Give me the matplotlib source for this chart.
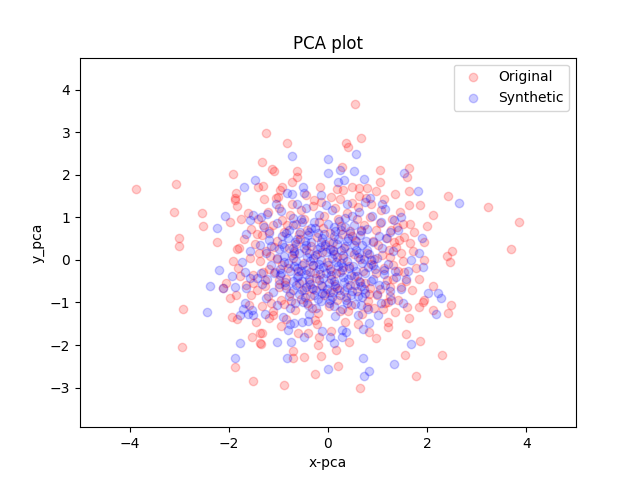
import matplotlib
matplotlib.use("Agg")
import matplotlib.pyplot as plt
import numpy as np

# Original (red) points
original_pts = [
    (-3.88,1.67),(-3.07,1.78),(-3.11,1.13),(-3.00,0.52),(-3.00,0.33),(-2.93,-1.15),(-2.95,-2.04),
    (-2.54,1.10),(-2.52,0.80),(-2.24,0.42),(-1.92,2.02),(-1.24,2.98),(0.54,3.66),(0.66,2.86),
    (0.37,2.75),(0.41,2.65),(-0.82,2.75),(-1.33,2.30),(-1.12,2.14),(-1.08,2.09),(3.23,1.24),
    (3.86,0.89),(3.68,0.26),(2.42,1.50),(2.50,0.21),(2.40,0.09),(2.46,-0.05),(2.12,1.06),
    (2.29,-2.23),(1.55,-2.23),(1.63,-1.36),(1.77,-2.72),(0.64,-3.00),(0.21,-2.49),(-0.27,-2.68),
    (-0.88,-2.93),(-1.51,-2.84),(-1.87,-2.51),(-1.93,-1.34),(-1.83,-1.38),(-1.53,-1.81),
    (-1.37,-1.71),(-1.37,-1.95),(-0.15,-2.25),(-0.48,-2.28),(-0.70,-2.14),(-0.70,-2.30),
    (0.17,-2.11),(0.42,-1.92),(-0.21,-2.00),(-1.35,-1.97),(-1.33,-1.71),(-0.94,-1.55),
    (-0.60,-1.71),(-0.40,-1.71),(-0.19,-1.81),(0.07,-1.67),(0.60,-1.50),(0.82,-1.69),
    (-0.23,-1.50),(-0.27,-1.41),(-1.18,-1.36),(-1.10,-1.29),(1.20,-1.57),(0.96,-1.83),
    (1.57,-1.74),(1.85,-1.90),(2.42,-1.24),(2.12,-1.17),(1.83,-1.10),(2.48,-1.06),
    (1.93,-0.94),(1.91,-0.99),(1.41,-0.94),(2.12,-0.61),(1.83,-0.45),(1.77,-0.19),(1.53,-0.28),
    (1.93,0.00),(1.47,0.16),(1.65,0.40),(1.93,0.42),(1.53,0.54),(1.65,0.85),(1.73,0.66),
    (1.99,0.80),(1.63,1.29),(1.85,1.29),(1.63,1.62),(1.63,2.16),(1.59,1.95),(1.04,2.11),
    (1.04,1.83),(0.96,1.62),(0.29,2.18),(-0.62,2.09),(-0.62,1.95),(-0.72,1.83),(-1.41,1.71),
    (-1.31,1.74),(-0.17,1.71),(-0.92,1.71),(-0.96,1.64),(0.19,1.67),(0.31,1.64),(0.48,1.71),
    (0.62,1.69),(0.78,1.69),(-1.29,1.43),(-1.00,1.48),(-0.29,1.41),(0.07,1.48),(0.76,1.46),
    (0.62,1.50),(-1.87,1.41),(-1.83,1.27),(-1.97,0.89),(-1.75,0.96),(-1.43,0.61),(-1.83,0.26),
    (-1.79,0.28),(-1.91,-0.02),(-1.81,-0.19),(-1.77,-0.38),(-2.05,-0.54),(-2.11,-0.66),
    (-1.97,-0.89),(-1.85,-0.82),(-1.51,-0.54),(-1.85,1.57),(-1.87,1.46),
    (-1.42,0.95),(-1.21,1.12),(-0.98,1.21),(-0.77,1.05),(-0.55,1.18),(-0.31,1.26),(-0.08,1.02),
    (0.15,1.22),(0.38,1.09),(0.61,1.25),(0.85,1.01),(1.07,1.18),(1.29,0.97),(1.45,1.12),
    (-1.55,0.72),(-1.33,0.58),(-1.10,0.81),(-0.88,0.66),(-0.64,0.84),(-0.42,0.71),(-0.19,0.88),
    (0.04,0.63),(0.27,0.79),(0.49,0.55),(0.72,0.83),(0.96,0.69),(1.18,0.52),(1.39,0.77),
    (-1.47,0.38),(-1.25,0.21),(-1.02,0.45),(-0.79,0.29),(-0.57,0.49),(-0.34,0.33),(-0.12,0.18),
    (0.11,0.41),(0.33,0.27),(0.56,0.44),(0.79,0.16),(1.01,0.36),(1.23,0.24),(1.44,0.47),
    (-1.38,-0.03),(-1.16,0.09),(-0.93,-0.12),(-0.71,0.05),(-0.48,-0.08),(-0.26,0.11),(-0.03,-0.05),
    (0.19,0.07),(0.42,-0.14),(0.64,0.03),(0.87,-0.09),(1.09,0.12),(1.31,-0.11),(1.52,-0.02),
    (-1.51,-0.35),(-1.28,-0.48),(-1.06,-0.29),(-0.84,-0.44),(-0.61,-0.26),(-0.39,-0.51),(-0.16,-0.33),
    (0.07,-0.46),(0.29,-0.24),(0.52,-0.39),(0.74,-0.55),(0.97,-0.31),(1.19,-0.47),(1.41,-0.27),
    (-1.44,-0.71),(-1.21,-0.86),(-0.99,-0.64),(-0.76,-0.79),(-0.54,-0.92),(-0.31,-0.68),(-0.09,-0.83),
    (0.14,-0.62),(0.36,-0.88),(0.59,-0.73),(0.81,-0.96),(1.04,-0.69),(1.26,-0.84),(1.47,-0.63),
    (-1.33,-1.08),(-1.11,-1.21),(-0.88,-1.03),(-0.66,-1.17),(-0.43,-1.01),(-0.21,-1.24),(0.02,-1.09),
    (0.24,-1.19),(0.47,-1.05),(0.69,-1.27),(0.92,-1.13),(1.14,-1.02),(1.36,-1.22),
    (-1.05,1.45),(-0.45,1.52),(0.48,1.33),(1.12,1.42),(1.35,1.55),(-1.62,1.10),(-1.70,0.50),
    (-1.65,-0.60),(-1.60,-1.05),(1.70,-0.70),(1.72,0.20),(1.20,-1.45),(0.35,-1.45),(-0.85,-1.40),
    (-1.45,-1.45),(-1.31,0.82),(-0.92,0.93),(-0.59,0.61),(-0.22,0.54),(0.21,0.95),(0.58,0.97),
    (0.91,0.44),(1.27,0.69),(-1.19,-0.22),(-0.81,-0.18),(-0.45,0.22),(-0.06,0.38),(0.31,0.05),
    (0.71,-0.27),(1.13,-0.18),(1.38,0.31),(-1.27,-0.62),(-0.87,-0.58),(-0.49,-0.71),(-0.14,-0.59),
    (0.23,-0.71),(0.62,-0.49),(0.98,-0.82),(1.32,-0.45),(-0.95,-0.95),(-0.33,-1.12),(0.18,-0.95),
    (0.78,-1.11),(1.21,-0.98),(-1.08,0.31),(-0.36,-0.28),(0.45,0.68),(0.05,-0.21),(-0.65,0.38),
    (-1.18,0.68),(-0.82,0.81),(-0.48,0.95),(-0.11,0.74),(0.29,0.61),(0.66,0.67),(1.05,0.86),
    (1.34,0.43),(-1.40,0.15),(-1.03,0.02),(-0.68,0.17),(-0.30,-0.13),(0.10,0.24),(0.52,0.14),
    (0.93,0.02),(1.25,0.07),(-1.32,-0.28),(-0.98,-0.47),(-0.59,-0.55),(-0.24,-0.43),(0.17,-0.30),
    (0.45,-0.60),(0.85,-0.66),(1.24,-0.63),(-1.15,-1.02),(-0.75,-0.97),(-0.37,-0.85),(0.05,-0.75),
    (0.41,-1.20),(0.83,-0.80),(1.10,-1.15),(-0.72,1.32),(-0.15,1.35),(0.24,1.44),(0.86,1.31),
    (1.51,0.85),(-1.57,0.05),(-1.55,-0.82),(1.58,-0.50),(1.60,-1.10),
]

# Synthetic (blue) points
synthetic_pts = [
    (-1.47,1.88),(-1.69,1.71),(-0.72,2.44),(0.56,2.49),(0.01,2.37),(0.25,2.11),(0.52,2.09),
    (0.01,2.04),(0.21,1.83),(0.33,1.88),(0.72,1.90),(-0.50,1.71),(-0.48,1.57),(-0.82,1.57),
    (-0.72,1.55),(-0.15,1.53),(0.84,1.46),(1.08,1.31),(1.53,2.04),(1.81,1.62),(2.64,1.34),
    (1.47,1.01),(1.33,0.94),(1.41,0.70),(1.89,0.52),(1.83,0.16),(1.67,0.00),(1.91,-0.16),
    (1.61,-0.26),(1.37,-0.40),(1.57,-0.45),(1.47,-0.68),(2.01,-0.77),(2.22,-0.77),(2.28,-0.89),
    (1.51,-1.01),(2.18,-1.27),(1.67,-1.97),(1.33,-2.44),(0.82,-2.60),(0.72,-2.72),(0.70,-2.30),
    (0.01,-2.56),(-0.82,-2.30),(0.13,-1.95),(-0.48,-1.81),(-0.74,-1.92),(-1.02,-1.92),
    (-0.80,-1.64),(-0.13,-1.67),(0.05,-1.81),(0.29,-1.81),(0.29,-1.64),(0.37,-1.69),(0.70,-1.62),
    (0.82,-1.48),(-0.52,-1.46),(-0.40,-1.43),(-0.76,-1.50),(-0.68,-1.48),(-1.27,-1.27),
    (-1.87,-2.30),(-1.77,-1.95),(-1.77,-1.29),(-1.61,-1.27),(-1.51,-1.29),(-2.44,-1.22),
    (-1.67,-1.01),(-1.71,-1.15),(-1.53,-1.17),(-2.38,-0.61),(-2.11,-0.66),(-1.87,-0.63),
    (-1.65,-0.66),(-2.20,-0.23),(-1.93,-0.38),(-1.67,-0.28),(-1.57,-0.42),(-1.43,-0.42),
    (-1.73,-0.05),(-1.57,0.21),(-1.65,0.61),(-2.24,0.75),(-2.07,1.03),(-1.57,0.94),(-1.51,1.06),
    (-1.22,1.08),(-0.95,1.15),(-0.71,0.98),(-0.44,1.21),(-0.18,1.05),(0.09,1.17),(0.35,0.99),
    (0.62,1.12),(0.88,1.03),(1.15,1.19),(-1.29,0.78),(-1.03,0.86),(-0.79,0.71),(-0.52,0.89),
    (-0.27,0.74),(0.01,0.85),(0.26,0.69),(0.53,0.81),(0.79,0.72),(1.06,0.88),(1.25,0.66),
    (-1.18,0.47),(-0.92,0.55),(-0.66,0.41),(-0.41,0.58),(-0.15,0.43),(0.12,0.56),(0.38,0.45),
    (0.64,0.59),(0.91,0.42),(1.17,0.51),(-1.25,0.16),(-0.99,0.25),(-0.73,0.12),(-0.48,0.28),
    (-0.22,0.14),(0.04,0.26),(0.31,0.11),(0.57,0.24),(0.83,0.13),(1.09,0.27),(-1.14,-0.13),
    (-0.88,-0.05),(-0.62,-0.19),(-0.36,-0.02),(-0.11,-0.16),(0.16,-0.04),(0.42,-0.18),(0.68,-0.07),
    (0.94,-0.21),(1.21,-0.09),(-1.23,-0.45),(-0.97,-0.36),(-0.71,-0.49),(-0.45,-0.33),(-0.19,-0.47),
    (0.07,-0.35),(0.33,-0.51),(0.59,-0.38),(0.86,-0.49),(1.12,-0.34),(-1.11,-0.76),(-0.85,-0.67),
    (-0.59,-0.81),(-0.33,-0.65),(-0.07,-0.79),(0.19,-0.66),(0.46,-0.82),(0.72,-0.69),(0.98,-0.81),
    (1.24,-0.72),(-1.02,-1.05),(-0.76,-1.12),(-0.50,-0.98),(-0.24,-1.14),(0.02,-1.01),(0.28,-1.16),
    (0.55,-1.03),(0.81,-1.15),(1.07,-1.02),(-0.81,0.52),(-0.57,0.66),(-0.34,0.41),(-0.09,0.61),
    (0.18,0.37),(0.44,0.63),(0.69,0.35),(-0.68,0.21),(-0.42,0.07),(-0.16,0.31),(0.08,0.04),
    (0.35,0.33),(0.61,0.06),(0.77,0.44),(-0.77,-0.27),(-0.52,-0.11),(-0.26,-0.32),(0.01,-0.12),
    (0.24,-0.29),(0.51,-0.14),(0.75,-0.31),(-0.64,-0.58),(-0.39,-0.46),(-0.13,-0.62),(0.13,-0.49),
    (0.39,-0.64),(0.64,-0.52),(-0.46,-0.87),(-0.21,-0.91),(0.09,-0.88),(0.36,-0.94),(0.61,-0.86),
    (-0.55,0.95),(-0.29,0.88),(0.22,0.91),(0.49,1.02),(-0.05,1.28),(0.38,1.31),(-0.62,1.31),
    (0.75,1.35),(-1.05,1.32),(-0.97,-0.21),(-1.02,0.05),(0.99,0.05),(1.03,-0.58),(-1.35,-0.30),
    (-1.38,0.35),(1.32,0.20),(1.35,-0.25),(-0.31,-0.13),(-0.04,0.18),(0.27,-0.08),(-0.19,-0.21),
    (0.11,0.21),(-0.45,0.35),(0.47,-0.35),(0.03,-0.55),(-0.60,-0.37),(0.55,0.47),(-0.88,0.30),
    (0.90,-0.12),(-0.35,0.74),(0.32,-0.74),(-0.70,0.82),(0.68,-0.88),(0.12,0.78),(-0.12,-0.78),
    (-0.38,-1.28),(0.15,-1.32),(0.60,-1.30),(-0.90,-1.35),(1.00,-1.30),(-1.25,-0.90),(1.28,-0.95),
    (-1.35,1.00),
    (-0.85,0.62),(-0.63,0.49),(-0.38,0.66),(-0.12,0.52),(0.14,0.68),(0.41,0.52),(0.66,0.71),
    (-0.93,0.38),(-0.71,0.29),(-0.47,0.45),(-0.23,0.25),(0.02,0.42),(0.27,0.22),(0.53,0.36),
    (0.78,0.24),(-0.89,0.09),(-0.64,-0.02),(-0.39,0.16),(-0.14,-0.01),(0.12,0.13),(0.38,-0.03),
    (0.63,0.15),(0.87,-0.01),(-0.95,-0.31),(-0.69,-0.14),(-0.44,-0.24),(-0.18,-0.09),(0.06,-0.26),
    (0.31,-0.17),(0.56,-0.27),(0.81,-0.16),(-0.87,-0.52),(-0.62,-0.41),(-0.36,-0.56),(-0.11,-0.42),
    (0.15,-0.57),(0.41,-0.44),(0.66,-0.61),(0.91,-0.44),(-0.79,-0.84),(-0.53,-0.71),(-0.28,-0.82),
    (-0.02,-0.69),(0.24,-0.83),(0.49,-0.72),(0.75,-0.79),(-0.66,-1.01),(-0.41,-1.07),(-0.14,-0.97),
    (0.12,-1.08),(0.39,-1.02),(0.67,-1.06),(-0.58,0.15),(-0.31,0.04),(-0.07,0.33),(0.20,-0.14),
    (0.45,0.19),(-0.52,-0.50),(-0.25,-0.70),(0.30,-0.40),(0.05,-0.95),(-0.80,-0.08),(-0.99,-0.57),
    (-1.08,-0.31),(-1.15,0.32),(-1.19,0.63),(1.02,0.57),(1.13,-0.23),(1.15,-0.58),(-1.33,-0.57),
    (-0.44,-0.64),(0.20,0.50),(-0.20,0.63),(0.55,-0.60),(-0.70,-0.70),(0.72,0.02),(-0.05,-0.32),
    (0.35,0.78),(-0.55,-0.25),(0.10,-0.75),
]

series_labels = ["Original", "Synthetic"]
series_colors = ["red", "blue"]

orig = np.array(original_pts)
synth = np.array(synthetic_pts)

fig, ax = plt.subplots(figsize=(6.4, 4.8), dpi=100)
ax.scatter(orig[:, 0], orig[:, 1], c=series_colors[0], alpha=0.2, label=series_labels[0])
ax.scatter(synth[:, 0], synth[:, 1], c=series_colors[1], alpha=0.2, label=series_labels[1])
ax.set_xlim(-5, 5)
ax.set_ylim(-3.93, 4.75)
ax.set_title("PCA plot")
ax.set_xlabel("x-pca")
ax.set_ylabel("y_pca")
ax.legend(loc="upper right")
fig.savefig("out.png", dpi=100)
